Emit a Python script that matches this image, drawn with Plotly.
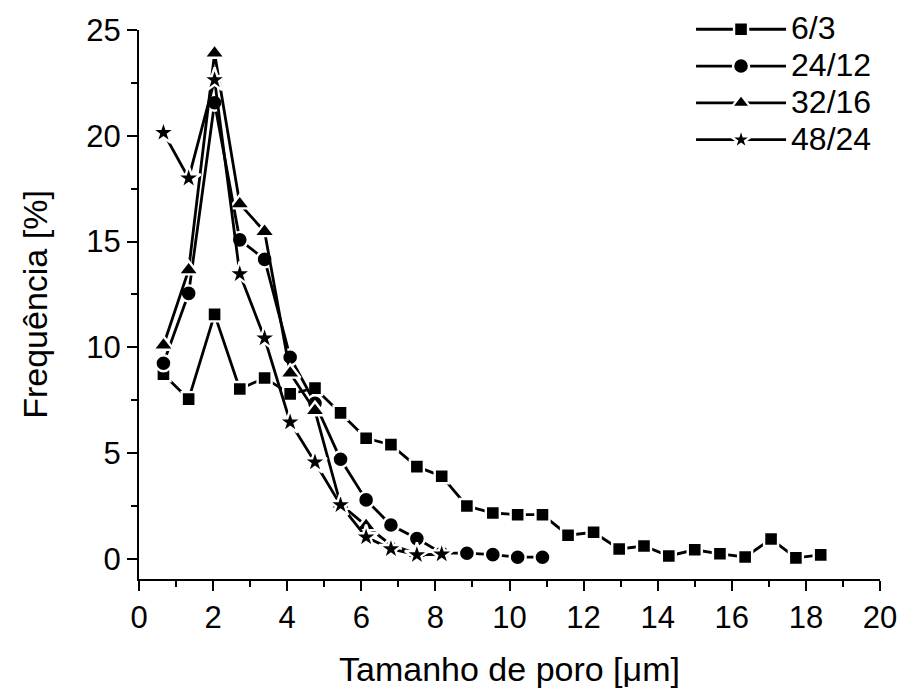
import plotly.graph_objects as go

# Data
x_63 = [0.66, 1.34, 2.04, 2.72, 3.39, 4.08, 4.75, 5.44, 6.13, 6.80, 7.50, 8.17, 8.85, 9.55,
        10.22, 10.89, 11.58, 12.27, 12.96, 13.63, 14.30, 15.00, 15.68, 16.36, 17.06, 17.73, 18.40]
y_63 = [8.73, 7.55, 11.56, 8.03, 8.55, 7.80, 8.07, 6.90, 5.70, 5.40, 4.36, 3.91, 2.50, 2.17,
        2.09, 2.09, 1.12, 1.26, 0.47, 0.61, 0.14, 0.43, 0.24, 0.09, 0.94, 0.05, 0.19]

x_2412 = [0.66, 1.34, 2.04, 2.72, 3.39, 4.08, 4.75, 5.44, 6.13, 6.80, 7.50, 8.17, 8.85, 9.55,
          10.22, 10.89]
y_2412 = [9.25, 12.55, 21.56, 15.08, 14.16, 9.53, 7.36, 4.71, 2.79, 1.60, 0.96, 0.27, 0.27, 0.20,
          0.08, 0.08]

x_3216 = [0.66, 1.34, 2.04, 2.72, 3.39, 4.08, 4.75, 5.44, 6.13, 6.80, 7.50]
y_3216 = [10.10, 13.66, 23.90, 16.78, 15.47, 8.78, 7.00, 2.58, 1.57, 0.66, 0.24]

x_4824 = [0.66, 1.34, 2.04, 2.72, 3.39, 4.08, 4.75, 5.44, 6.13, 6.80, 7.50, 8.17]
y_4824 = [20.15, 17.99, 22.64, 13.47, 10.43, 6.46, 4.57, 2.55, 1.03, 0.47, 0.19, 0.22]

x_ticks = [0, 2, 4, 6, 8, 10, 12, 14, 16, 18, 20]
y_ticks = [0, 5, 10, 15, 20, 25]

series = [
    ("6/3", x_63, y_63, "square", 14),
    ("24/12", x_2412, y_2412, "circle", 16),
    ("32/16", x_3216, y_3216, "triangle-up", 18),
    ("48/24", x_4824, y_4824, "star", 18),
]

FONT = "Liberation Sans, Arial, sans-serif"

fig = go.Figure()
for name, xs, ys, sym, sz in series:
    fig.add_trace(go.Scatter(
        x=xs, y=ys, name='<span style="font-size:32px">' + name + '</span>',
        mode="lines+markers",
        line=dict(color="black", width=2.8),
        marker=dict(symbol=sym, size=sz, color="black",
                    line=dict(color="white", width=2.4)),
    ))

axis_common = dict(
    showgrid=False, zeroline=False, showline=True, linecolor="black", linewidth=2,
    ticks="outside", ticklen=10, tickwidth=2, tickcolor="black",
    tickfont=dict(family=FONT, size=31, color="black"),
    title_font=dict(family=FONT, size=34, color="black"),
)

fig.update_layout(
    width=902, height=688,
    margin=dict(l=139, r=22, t=30, b=109, autoexpand=False),
    paper_bgcolor="white", plot_bgcolor="white",
    font=dict(family=FONT, size=31, color="black"),
    showlegend=True,
    legend=dict(
        x=0.745, y=1.044, xanchor="left", yanchor="top",
        bgcolor="rgba(0,0,0,0)", font=dict(family=FONT, size=26, color="black"),
        itemwidth=90, tracegroupgap=0,
    ),
    xaxis=dict(
        range=[0, 20], tickvals=x_ticks,
        minor=dict(ticks="outside", ticklen=6, tickwidth=2, tickcolor="black", dtick=1, tick0=0),
        title=dict(text="Tamanho de poro [μm]", standoff=24),
        **axis_common,
    ),
    yaxis=dict(
        range=[-0.95, 25], tickvals=y_ticks,
        minor=dict(ticks="outside", ticklen=6, tickwidth=2, tickcolor="black", dtick=2.5, tick0=0),
        title=dict(text="Frequência [%]", standoff=28),
        **axis_common,
    ),
)

fig.write_html("out.html")
